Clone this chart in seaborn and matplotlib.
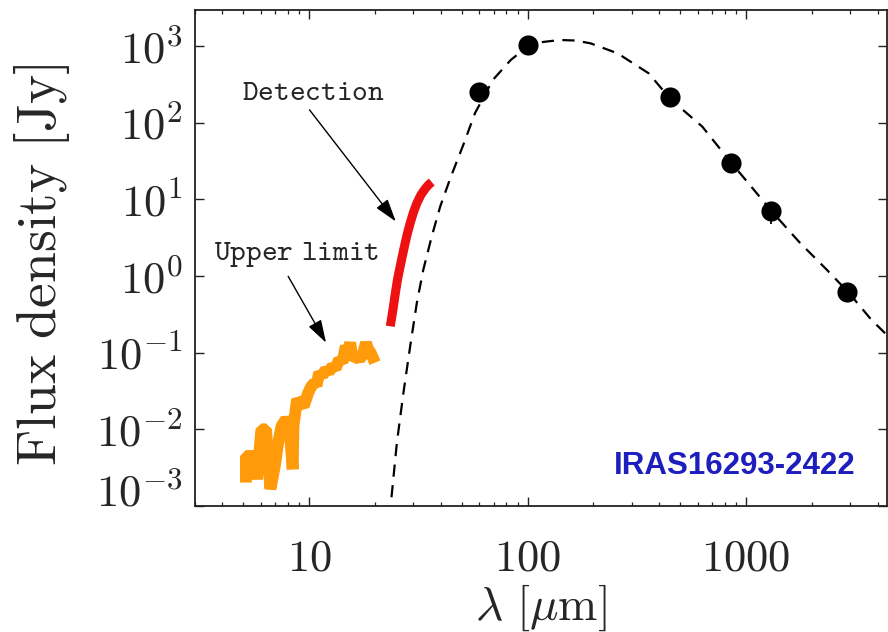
import numpy as np
import pandas as pd
import matplotlib
matplotlib.use("Agg")
import matplotlib.pyplot as plt
import matplotlib.transforms as mtransforms
from matplotlib.ticker import (FixedLocator, FixedFormatter, LogLocator,
                               NullLocator, NullFormatter)
import seaborn as sns

# Continuum photometry (IRAS / submm / mm)
phot_wave = [60, 100, 450, 850, 1300, 2900]
phot_flux = [250, 1020, 214, 30, 7.0, 0.62]
phot_err = [0, 0, 0, 0, 2.2, 0]

# Model SED (dashed)
model_wave = [23.3, 25.2, 27.0, 29.0, 31.1, 33.3, 36.4, 39.8, 44.3, 51.1,
              57.4, 69.3, 83.7, 100, 115, 140, 165, 194, 258, 358, 453,
              630, 834, 1055, 1333, 1767, 2340, 2960, 3740, 4470]
model_flux = [7e-4, 6.7e-3, 0.030, 0.122, 0.447, 1.21, 3.29, 8.08, 19, 54,
              133, 361, 657, 990, 1120, 1197, 1180, 1084, 803, 441, 200,
              89, 32.8, 14.7, 6.6, 2.7, 1.21, 0.60, 0.27, 0.164]

# Spectrum: detection (red)
det_wave = [23.5, 24.2, 24.8, 25.4, 26.1, 26.8, 27.5, 28.2, 29.0, 30.0,
            31.1, 32.5, 34.0, 35.2, 36.4]
det_flux = [0.221, 0.37, 0.60, 0.92, 1.34, 1.92, 2.70, 3.65, 4.91, 6.76,
            8.9, 11.5, 13.8, 15.5, 16.8]

# Spectrum: upper limit (orange)
ul_wave = [5.13, 5.13, 5.64, 5.77, 6.04, 6.34, 6.64, 6.96, 7.20, 7.47, 7.82,
           8.10, 8.40, 8.47, 8.80, 9.10, 9.44, 9.9, 10.2, 10.6, 10.8, 11.1,
           11.5, 11.9, 12.3, 12.8, 13.2, 13.7, 14.2, 14.7, 15.0, 15.4, 15.8,
           16.4, 17.0, 17.6, 18.2, 18.6, 19.1, 19.6, 20.0]
ul_flux = [2.02e-3, 4.49e-3, 4.49e-3, 2.23e-3, 1.0e-2, 1.0e-2, 1.66e-3,
           3.33e-3, 6.5e-3, 1.10e-2, 1.35e-2, 1.2e-2, 3.01e-3, 1.10e-2,
           2.46e-2, 2.2e-2, 2.01e-2, 3.0e-2, 3.6e-2, 4.06e-2, 3.7e-2,
           5.47e-2, 5.0e-2, 6.04e-2, 5.6e-2, 6.67e-2, 6.2e-2, 8.15e-2,
           7.5e-2, 0.122, 0.10, 0.135, 8.15e-2, 9.0e-2, 8.15e-2, 9.5e-2,
           0.135, 0.11, 0.10, 0.085, 7.4e-2]

x_tick_vals = [10, 100, 1000]
x_tick_labels = [r'$\mathrm{10}$', r'$\mathrm{100}$', r'$\mathrm{1000}$']
y_tick_vals = [1e-3, 1e-2, 1e-1, 1e0, 1e1, 1e2, 1e3]
y_tick_labels = ['', r'$10^{-2}$', r'$10^{-1}$', r'$10^{0}$', r'$10^{1}$',
                 r'$10^{2}$', r'$10^{3}$']
bottom_label = r'$10^{-3}$'

sns.set_style("ticks")
plt.rcParams['mathtext.fontset'] = 'cm'
plt.rcParams['font.family'] = ['DejaVu Serif']

fig = plt.figure(figsize=(8.88, 6.32), dpi=100)
ax = fig.add_axes([0.2196, 0.1994, 0.7793, 0.7848])

model_df = pd.DataFrame({'wave': model_wave, 'flux': model_flux})
det_df = pd.DataFrame({'wave': det_wave, 'flux': det_flux})
ul_df = pd.DataFrame({'wave': ul_wave, 'flux': ul_flux})
phot_df = pd.DataFrame({'wave': phot_wave, 'flux': phot_flux, 'err': phot_err})

sns.lineplot(data=model_df, x='wave', y='flux', ax=ax, color='black',
             lw=1.6, linestyle=(0, (5.5, 3.8)), sort=False, estimator=None)
sns.lineplot(data=ul_df, x='wave', y='flux', ax=ax, color='#FF9A0A',
             lw=8.5, sort=False, estimator=None,
             solid_joinstyle='bevel', solid_capstyle='butt')
sns.lineplot(data=det_df, x='wave', y='flux', ax=ax, color='#EE1111',
             lw=6.5, sort=False, estimator=None, solid_capstyle='butt')

with_err = phot_df[phot_df['err'] > 0]
ax.errorbar(with_err['wave'], with_err['flux'], yerr=with_err['err'],
            fmt='none', ecolor='black', elinewidth=1.3, capsize=0)
sns.scatterplot(data=phot_df, x='wave', y='flux', ax=ax, color='black',
                s=210, edgecolor='black', linewidth=0, zorder=5)

ax.set_xscale('log')
ax.set_yscale('log')
ax.set_xlim(3.0, 4420)
ax.set_ylim(1e-3, 2950)

ax.xaxis.set_major_locator(FixedLocator(x_tick_vals))
ax.xaxis.set_major_formatter(FixedFormatter(x_tick_labels))
ax.xaxis.set_minor_locator(LogLocator(base=10, subs=np.arange(2, 10)))
ax.xaxis.set_minor_formatter(NullFormatter())
ax.yaxis.set_major_locator(FixedLocator(y_tick_vals))
ax.yaxis.set_major_formatter(FixedFormatter(y_tick_labels))
ax.yaxis.set_minor_locator(NullLocator())

ax.tick_params(axis='both', which='both', direction='in', top=True,
               right=True, color='#222222')
ax.tick_params(axis='both', which='major', length=6.5, width=1.0)
ax.tick_params(axis='both', which='minor', length=3.2, width=0.9)
ax.tick_params(axis='x', which='major', labelsize=32, pad=22)
ax.tick_params(axis='y', which='major', labelsize=32, pad=9)

# lowest y label sits a little above its tick
ax.text(-9 / 72 / (0.7793 * 8.88), 1e-3, bottom_label, fontsize=32,
        ha='right', va='center_baseline',
        transform=ax.get_yaxis_transform()
        + mtransforms.ScaledTranslation(0, 12 / 72, fig.dpi_scale_trans))

for sp in ax.spines.values():
    sp.set_linewidth(1.3)
    sp.set_color('#222222')

ax.set_xlabel(r'$\lambda\ [\mu\mathrm{m}]$', fontsize=34, va='center')
ax.xaxis.set_label_coords(0.5, -0.206)
ax.set_ylabel(r'$\mathrm{Flux\ density\ [Jy]}$', fontsize=40, va='center')
ax.yaxis.set_label_coords(-0.221, 0.486)

arrow_kw = dict(arrowstyle='-|>,head_length=0.7,head_width=0.22',
                color='black', lw=1.0, mutation_scale=20,
                shrinkA=0, shrinkB=0)
ax.annotate('', xy=(24.9, 5.15), xytext=(10.03, 147), arrowprops=arrow_kw)
ax.annotate('', xy=(11.94, 0.135), xytext=(8.01, 0.99), arrowprops=arrow_kw)
ax.text(10.5, 252, r'$\mathtt{Detection}$', fontsize=21.5,
        ha='center', va='center')
ax.text(8.8, 1.9, r'$\mathtt{Upper\ limit}$', fontsize=21.5,
        ha='center', va='center')

ax.text(0.780, 0.080, 'IRAS16293-2422', transform=ax.transAxes,
        fontsize=22.5, fontweight='bold', family='Liberation Sans',
        color='#1E1EBE', ha='center', va='center')

fig.savefig('out.png', dpi=100)
